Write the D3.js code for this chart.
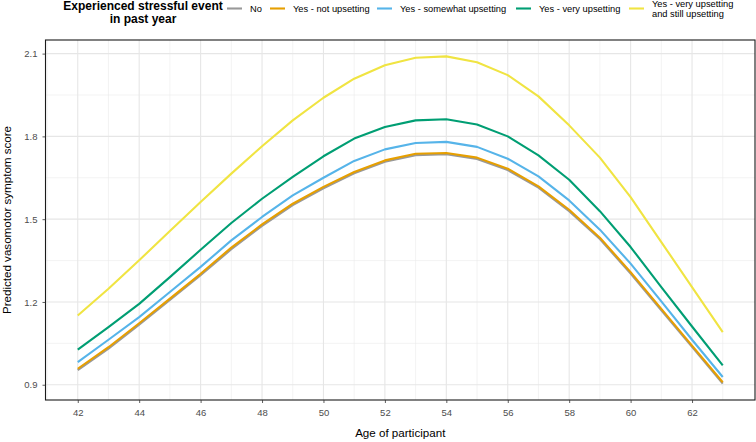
<!DOCTYPE html>
<html>
<head>
<meta charset="utf-8">
<script src="https://cdn.jsdelivr.net/npm/d3@7"></script>
<style>
  html, body { margin: 0; padding: 0; background: #fff; }
  svg { display: block; font-family: "Liberation Sans", Arial, sans-serif; }
</style>
</head>
<body>
<svg id="chart" width="756" height="442"></svg>
<script>
// ---------- data ----------
const ages = [42,43,44,45,46,47,48,49,50,51,52,53,54,55,56,57,58,59,60,61,62,63];
const seriesNames = ["No", "Yes - not upsetting", "Yes - somewhat upsetting", "Yes - very upsetting", "Yes - very upsetting\nand still upsetting"];
const seriesColors = ["#999999", "#E69F00", "#56B4E9", "#009E73", "#F0E442"];
const valuesNo = [0.953,1.031,1.118,1.207,1.297,1.391,1.476,1.551,1.612,1.666,1.708,1.732,1.735,1.718,1.678,1.614,1.529,1.428,1.303,1.170,1.037,0.904];
const valuesNotUpsetting = [0.958,1.036,1.123,1.212,1.302,1.397,1.481,1.556,1.617,1.671,1.713,1.737,1.740,1.723,1.683,1.619,1.534,1.433,1.308,1.175,1.042,0.909];
const valuesSomewhat = [0.982,1.063,1.145,1.236,1.327,1.423,1.508,1.586,1.650,1.711,1.753,1.776,1.780,1.762,1.719,1.655,1.568,1.462,1.339,1.202,1.063,0.928];
const valuesVery = [1.027,1.109,1.193,1.290,1.389,1.486,1.574,1.653,1.728,1.792,1.834,1.858,1.862,1.843,1.800,1.731,1.643,1.529,1.399,1.254,1.111,0.970];
const valuesStill = [1.151,1.248,1.351,1.457,1.562,1.665,1.764,1.858,1.940,2.009,2.058,2.085,2.090,2.069,2.022,1.945,1.840,1.723,1.580,1.417,1.254,1.091];
const xTicks = [42,44,46,48,50,52,54,56,58,60,62];
const xMinor = [41,43,45,47,49,51,53,55,57,59,61,63];
const yTicks = [0.9,1.2,1.5,1.8,2.1];
const yMinor = [1.05,1.35,1.65,1.95];
const legendTitle = ["Experienced stressful event", "in past year"];
const xTitle = "Age of participant";
const yTitle = "Predicted vasomotor symptom score";

const allSeries = [valuesNo, valuesNotUpsetting, valuesSomewhat, valuesVery, valuesStill];

// ---------- layout ----------
const svg = d3.select("#chart");
const P = { left: 45.5, right: 755, top: 40, bottom: 400 };

const xr = d3.extent(ages), xe = (xr[1]-xr[0])*0.05;
const x = d3.scaleLinear().domain([xr[0]-xe, xr[1]+xe]).range([P.left, P.right]);
const allVals = allSeries.flat();
const yr = d3.extent(allVals), ye = (yr[1]-yr[0])*0.05;
const y = d3.scaleLinear().domain([yr[0]-ye, yr[1]+ye]).range([P.bottom, P.top]);

// panel background
svg.append("rect").attr("x", P.left).attr("y", P.top)
  .attr("width", P.right-P.left).attr("height", P.bottom-P.top).attr("fill", "#fff");

const grid = svg.append("g");
// minor grid
grid.selectAll(".ymin").data(yMinor).join("line")
  .attr("x1", P.left).attr("x2", P.right).attr("y1", d=>y(d)).attr("y2", d=>y(d))
  .attr("stroke", "#ebebeb").attr("stroke-width", 0.6);
grid.selectAll(".xmin").data(xMinor).join("line")
  .attr("y1", P.top).attr("y2", P.bottom).attr("x1", d=>x(d)).attr("x2", d=>x(d))
  .attr("stroke", "#ebebeb").attr("stroke-width", 0.6);
// major grid
grid.selectAll(".ymaj").data(yTicks).join("line")
  .attr("x1", P.left).attr("x2", P.right).attr("y1", d=>y(d)).attr("y2", d=>y(d))
  .attr("stroke", "#e6e6e6").attr("stroke-width", 1.1);
grid.selectAll(".xmaj").data(xTicks).join("line")
  .attr("y1", P.top).attr("y2", P.bottom).attr("x1", d=>x(d)).attr("x2", d=>x(d))
  .attr("stroke", "#e6e6e6").attr("stroke-width", 1.1);

// lines
const line = d3.line().x((d,i)=>x(ages[i])).y(d=>y(d));
svg.append("g").selectAll("path").data(allSeries).join("path")
  .attr("d", d=>line(d)).attr("fill", "none")
  .attr("stroke", (d,i)=>seriesColors[i]).attr("stroke-width", 2.1)
  .attr("stroke-linejoin", "round");

// panel border
svg.append("rect").attr("x", P.left).attr("y", P.top)
  .attr("width", P.right-P.left).attr("height", P.bottom-P.top)
  .attr("fill", "none").attr("stroke", "#1a1a1a").attr("stroke-width", 1.1);

// axes
const xAxis = svg.append("g").attr("transform", `translate(0,${P.bottom})`)
  .call(d3.axisBottom(x).tickValues(xTicks).tickSize(3).tickPadding(6).tickFormat(d3.format("d")));
const yAxis = svg.append("g").attr("transform", `translate(${P.left},0)`)
  .call(d3.axisLeft(y).tickValues(yTicks).tickSize(3).tickPadding(5).tickFormat(d3.format(".1f")));
[xAxis, yAxis].forEach(a => {
  a.select(".domain").remove();
  a.selectAll(".tick line").attr("stroke", "#333").attr("stroke-width", 0.8);
  a.selectAll(".tick text").attr("fill", "#4d4d4d").attr("font-size", 9.5)
    .attr("font-family", "Liberation Sans, Arial, sans-serif");
});

// axis titles
svg.append("text").attr("x", (P.left+P.right)/2).attr("y", 437)
  .attr("text-anchor", "middle").attr("font-size", 11.6).attr("fill", "#000").text(xTitle);
svg.append("text").attr("transform", `translate(11,${(P.top+P.bottom)/2}) rotate(-90)`)
  .attr("text-anchor", "middle").attr("font-size", 11.6).attr("fill", "#000").text(yTitle);

// legend
const lg = svg.append("g");
lg.append("text").attr("x", 143).attr("y", 10).attr("text-anchor", "middle")
  .attr("font-size", 12).attr("font-weight", "bold").text(legendTitle[0]);
lg.append("text").attr("x", 143).attr("y", 23).attr("text-anchor", "middle")
  .attr("font-size", 12).attr("font-weight", "bold").text(legendTitle[1]);

const keyX = [227, 270, 377, 516, 629];
seriesNames.forEach((name, i) => {
  const kx = keyX[i];
  lg.append("line").attr("x1", kx).attr("x2", kx+15).attr("y1", 8.5).attr("y2", 8.5)
    .attr("stroke", seriesColors[i]).attr("stroke-width", 2.1);
  const lines = name.split("\n");
  const t = lg.append("text").attr("font-size", 9.3).attr("fill", "#000");
  if (lines.length === 1) {
    t.attr("x", kx+23).attr("y", 11.8).text(lines[0]);
  } else {
    lines.forEach((l, j) => {
      t.append("tspan").attr("x", kx+23).attr("y", 7 + j*10).text(l);
    });
  }
});
</script>
</body>
</html>
